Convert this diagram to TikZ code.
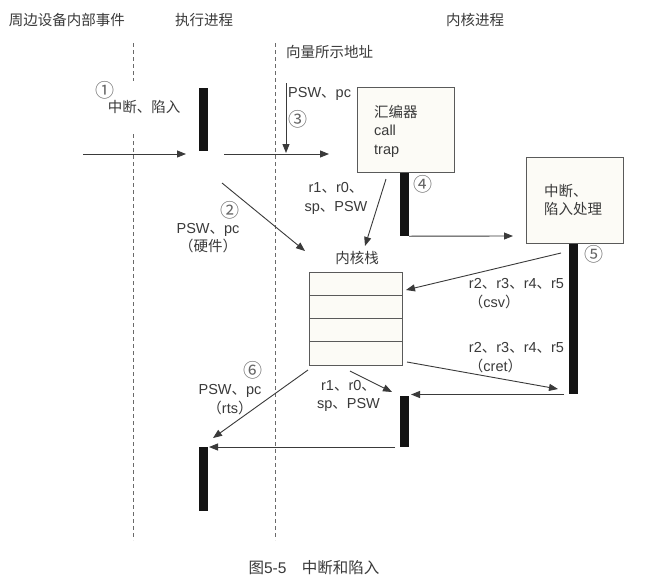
\documentclass[tikz,border=0pt]{standalone}
\usepackage{fontspec}
\setmainfont{Liberation Sans}
\newfontfamily\cjk{Noto Sans CJK SC}
\usetikzlibrary{arrows.meta}
\definecolor{txt}{HTML}{3A3A3A}
\definecolor{circc}{HTML}{666666}
\definecolor{ln}{HTML}{3A3A3A}
\definecolor{barc}{HTML}{141414}
\definecolor{boxfill}{HTML}{FCFBF6}
\definecolor{boxdraw}{HTML}{5A5A5A}
\definecolor{dashc}{HTML}{6A6A6A}
\newcommand{\dn}{{\cjk 、}}
\begin{document}
\begin{tikzpicture}[x=1pt,y=-1pt,
  lbl/.style={text=txt, font=\fontsize{14.5}{18.5}\selectfont, inner sep=0pt, align=center},
  lbll/.style={lbl, align=left},
  circ/.style={text=circc, font=\fontsize{19}{19}\cjk, inner sep=0pt},
  barnode/.style={fill=barc, draw=none, minimum width=9pt, inner sep=0pt},
  boxnode/.style={fill=boxfill, draw=boxdraw, line width=0.9pt, inner sep=0pt},
  arr/.style={draw=ln, line width=0.9pt, -{Triangle[length=9pt,width=7pt]}},
  dashline/.style={draw=dashc, line width=0.9pt, dash pattern=on 4pt off 3pt}]
\useasboundingbox (0,0) rectangle (650,581);
\fill[white] (0,0) rectangle (650,581);

% titles
\node[lbl] (t1) at (67,20) {\cjk 周边设备内部事件};
\node[lbl] (t2) at (204,20) {\cjk 执行进程};
\node[lbl] (t3) at (475,20) {\cjk 内核进程};

% dashed lifelines
\coordinate (d1a) at (133,43); \coordinate (d1b) at (133,540);
\coordinate (d2a) at (275,43); \coordinate (d2b) at (275,540);
\draw[dashline] (d1a) -- (d1b);
\draw[dashline] (d2a) -- (d2b);

% label 1
\node[lbl, fill=white, minimum height=52pt] (intr) at (144,107) {\cjk 中断、陷入};
\node[circ] (n1) at (104.5,90) {①};

% bars
\node[barnode, minimum height=63pt] (b1) at (203.5,119.5) {};
\node[barnode, minimum height=64pt] (b4) at (404.5,204) {};
\node[barnode, minimum height=151pt] (b5) at (573.5,318.5) {};
\node[barnode, minimum height=51pt] (b6) at (404.5,421.5) {};
\node[barnode, minimum height=64pt] (b7) at (203.5,479) {};

% boxes
\node[boxnode, minimum width=97pt, minimum height=85pt] (asm) at (405.5,129.5) {};
\node[lbll, anchor=west] (asmt) at (374,131) {{\cjk 汇编器}\\call\\trap};
\node[boxnode, minimum width=97pt, minimum height=86pt] (hdl) at (574.5,200) {};
\node[lbll, anchor=west] (hdlt) at (544,200) {{\cjk 中断、}\\{\cjk 陷入处理}};

% kernel stack
\node[boxnode, minimum width=93pt, minimum height=93pt] (stack) at (355.5,318.5) {};
\coordinate (s1l) at (309,295); \coordinate (s1r) at (402,295);
\coordinate (s2l) at (309,318); \coordinate (s2r) at (402,318);
\coordinate (s3l) at (309,341); \coordinate (s3r) at (402,341);
\draw[draw=boxdraw, line width=0.9pt] (s1l) -- (s1r) (s2l) -- (s2r) (s3l) -- (s3r);
\node[lbl] (stackt) at (357,258) {\cjk 内核栈};

% texts near the top
\node[lbll, anchor=west] (vec) at (286,52) {\cjk 向量所示地址};
\node[lbll, anchor=west] (psw3) at (288,94) {PSW\dn pc};
\node[circ] (n3) at (298,119) {③};

% coordinates for connectors
\coordinate (a1s) at (83,154); \coordinate (a1e) at (186,154);
\coordinate (a2s) at (224,154); \coordinate (a2e) at (329,154);
\coordinate (a3s) at (286,83); \coordinate (a3e) at (286,153);
\coordinate (a4s) at (386,179); \coordinate (a4e) at (365,246);
\coordinate (a5s) at (222,183); \coordinate (a5e) at (305,251);
\coordinate (a6e) at (513,236);
\coordinate (a7s) at (561,253); \coordinate (a7e) at (406,290);
\coordinate (a8s) at (407,362); \coordinate (a8e) at (558,389);
\coordinate (a9s) at (564,394.5); \coordinate (a9e) at (411,394.5);
\coordinate (a10s) at (350,371); \coordinate (a10e) at (392,392);
\coordinate (a11s) at (395,447); \coordinate (a11e) at (209,447);
\coordinate (a12s) at (308,370); \coordinate (a12e) at (213,438);

\draw[arr] (a1s) -- (a1e);
\draw[arr] (a2s) -- (a2e);
\draw[arr] (a3s) -- (a3e);
\draw[arr] (a4s) -- (a4e);
\draw[arr] (a5s) -- (a5e);
\draw[arr] (b4.south east) -- (a6e);
\draw[arr] (a7s) -- (a7e);
\draw[arr] (a8s) -- (a8e);
\draw[arr] (a9s) -- (a9e);
\draw[arr] (a10s) -- (a10e);
\draw[arr] (a11s) -- (a11e);
\draw[arr] (a12s) -- (a12e);

% labels
\node[circ] (n2) at (230,210) {②};
\node[lbl] (l2) at (208,238) {PSW\dn pc\\{\cjk （硬件）}};
\node[lbl] (l4a) at (336,198.5) {r1\dn r0\dn\\sp\dn PSW};
\node[circ] (n4) at (423,184) {④};
\node[circ] (n5) at (594,254) {⑤};
\node[lbll] (lcsv) at (516.5,293.5) {r2\dn r3\dn r4\dn r5\\{\cjk （}csv{\cjk ）}};
\node[lbll] (lcret) at (516.5,357.5) {r2\dn r3\dn r4\dn r5\\{\cjk （}cret{\cjk ）}};
\node[lbl] (l4b) at (348.5,396) {r1\dn r0\dn\\sp\dn PSW};
\node[circ] (n6) at (253,370) {⑥};
\node[lbl] (l6) at (230,399.5) {PSW\dn pc\\{\cjk （}rts{\cjk ）}};

% caption
\node[lbl, font=\fontsize{15.5}{18}\selectfont] (cap) at (314,568) {{\cjk 图}5-5{\cjk 　中断和陷入}};
\end{tikzpicture}
\end{document}
